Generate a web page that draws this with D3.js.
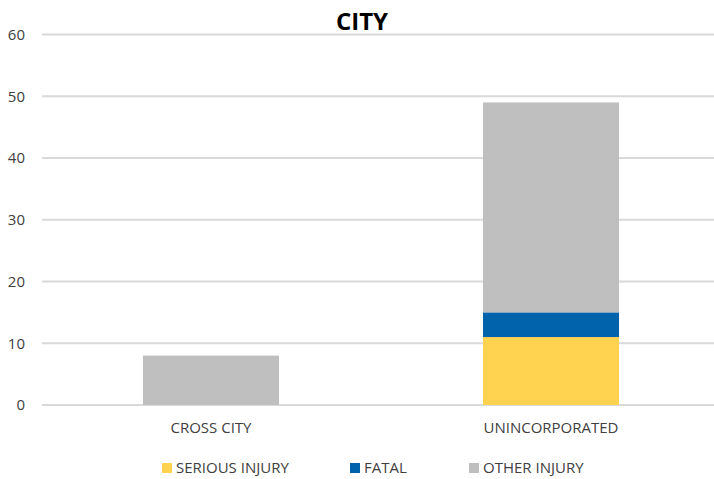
<!DOCTYPE html>
<html>
<head>
<meta charset="utf-8">
<script src="https://cdn.jsdelivr.net/npm/d3@7"></script>
<style>
  body { margin: 0; background: #fff; }
  text { font-family: "Open Sans", sans-serif; fill: #404040; }
</style>
</head>
<body>
<svg width="714" height="479"></svg>
<script>
// chart data
var categories = ["CROSS CITY", "UNINCORPORATED"];
var seriesNames = ["SERIOUS INJURY", "FATAL", "OTHER INJURY"];
var seriousInjury = [0, 11];
var fatal = [0, 4];
var otherInjury = [8, 34];
var yTicks = [0, 10, 20, 30, 40, 50, 60];

var colors = ["#FFD24F", "#0063AB", "#BFBFBF"];

var svg = d3.select("svg"),
    width = +svg.attr("width"),
    height = +svg.attr("height");

var rows = categories.map(function(c, i) {
    return { cat: c, "SERIOUS INJURY": seriousInjury[i], "FATAL": fatal[i], "OTHER INJURY": otherInjury[i] };
});

var x = d3.scaleBand().domain(categories).range([41, 721]).paddingInner(0.6).paddingOuter(0.3);
var y = d3.scaleLinear().domain([0, 60]).range([405, 34.5]);

// gridlines
svg.append("g").selectAll("line")
    .data(yTicks)
    .enter().append("line")
    .attr("x1", 42).attr("x2", width)
    .attr("y1", function(d) { return y(d); })
    .attr("y2", function(d) { return y(d); })
    .attr("stroke", "#D9D9D9")
    .attr("stroke-width", 2);

// y labels
svg.append("g").selectAll("text")
    .data(yTicks)
    .enter().append("text")
    .attr("x", 25)
    .attr("y", function(d) { return y(d); })
    .attr("dy", "0.35em")
    .attr("text-anchor", "end")
    .style("font-size", "15px")
    .text(function(d) { return d; });

// stacked bars
var stack = d3.stack().keys(seriesNames)(rows);

svg.append("g").selectAll("g")
    .data(stack)
    .enter().append("g")
    .attr("fill", function(d, i) { return colors[i]; })
    .selectAll("rect")
    .data(function(d) { return d; })
    .enter().append("rect")
    .attr("x", function(d) { return x(d.data.cat); })
    .attr("width", x.bandwidth())
    .attr("y", function(d) { return y(d[1]); })
    .attr("height", function(d) { return y(d[0]) - y(d[1]); });

// category labels
svg.append("g").selectAll("text")
    .data(categories)
    .enter().append("text")
    .attr("x", function(d) { return x(d) + x.bandwidth() / 2; })
    .attr("y", 428)
    .attr("dy", "0.35em")
    .attr("text-anchor", "middle")
    .style("font-size", "15px")
    .text(function(d) { return d; });

// title
svg.append("text")
    .attr("x", 362)
    .attr("y", 22)
    .attr("dy", "0.35em")
    .attr("text-anchor", "middle")
    .style("font-size", "24px")
    .style("font-weight", "bold")
    .style("fill", "#000")
    .text("CITY");

// legend
var legendX = [162, 350, 469];
var legend = svg.append("g").selectAll("g")
    .data(seriesNames)
    .enter().append("g")
    .attr("transform", function(d, i) { return "translate(" + legendX[i] + ",468)"; });

legend.append("rect")
    .attr("x", 0).attr("y", -5)
    .attr("width", 10).attr("height", 10)
    .attr("fill", function(d, i) { return colors[i]; });

legend.append("text")
    .attr("x", 14)
    .attr("y", 0)
    .attr("dy", "0.35em")
    .style("font-size", "15px")
    .text(function(d) { return d; });
</script>
</body>
</html>
